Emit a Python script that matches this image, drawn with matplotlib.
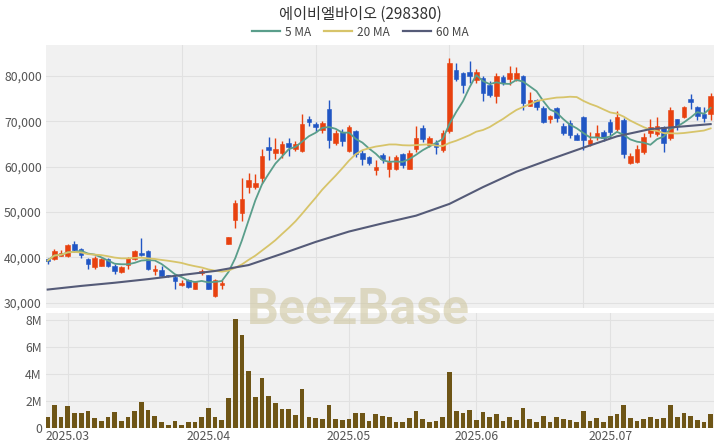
import numpy as np
import pandas as pd
import matplotlib
matplotlib.use("Agg")
import matplotlib.pyplot as plt
from matplotlib.lines import Line2D

plt.rcParams['font.family'] = ['Noto Sans CJK KR', 'DejaVu Sans']

# ---------------- data ----------------
opens = [39700, 39700, 40400, 40300, 43000, 41800, 39700, 37900, 38200, 39700,
         38000, 36800, 38400, 39700, 40900, 41300, 36900, 37200, 36000, 35700,
         33900, 35000, 33100, 36500, 36000, 31400, 33900, 43000, 48300, 49700,
         55500, 55500, 57400, 64400, 63000, 63000, 65300, 63800, 63500, 70600,
         69500, 68000, 72800, 65300, 67700, 63500, 67900, 63000, 62200, 59300,
         62600, 59600, 59400, 62800, 59600, 63800, 68600, 64800, 65300, 63600,
         67900, 81300, 80600, 81000, 79100, 79500, 78000, 75500, 79700, 79300,
         79300, 80000, 73400, 74700, 72900, 70500, 72900, 69000, 69700, 67000,
         70900, 65000, 66500, 67700, 69900, 68300, 70300, 60800, 61100, 63300,
         67500, 67200, 68700, 66300, 70500, 71000, 74900, 73200, 71600, 71600]
highs = [39900, 41800, 41700, 43000, 43700, 42000, 39800, 40200, 39900, 39900,
         38500, 38200, 40100, 41700, 44300, 41600, 38300, 38000, 36200, 36000,
         35000, 35300, 34800, 37500, 36200, 35300, 35000, 44600, 52700, 57400,
         58700, 58300, 63800, 66500, 66300, 65700, 66300, 65700, 71600, 71200,
         69900, 70000, 74800, 68000, 68300, 69100, 68200, 63700, 62300, 61500,
         63100, 62300, 62600, 63000, 63700, 68900, 69100, 66700, 65900, 68200,
         83900, 82900, 81000, 83400, 81500, 80000, 79000, 80600, 80300, 82200,
         82100, 80200, 76500, 75000, 73300, 71400, 73100, 69600, 70200, 67400,
         71200, 67700, 69200, 68000, 70600, 72400, 70700, 63000, 64800, 67400,
         70500, 70900, 69000, 73200, 70600, 73500, 76000, 73400, 73200, 76300]
lows = [38600, 39400, 40200, 40100, 41200, 39800, 37500, 37500, 38100, 37900,
        36300, 36600, 37500, 39400, 40300, 37300, 36100, 35600, 35600, 33000,
        33600, 33200, 33000, 36000, 33000, 31300, 33000, 42900, 46400, 48000,
        54300, 55000, 56300, 61500, 61800, 62000, 62400, 63400, 63300, 68900,
        67700, 67500, 64100, 64800, 64500, 63300, 62200, 60400, 60400, 58200,
        60900, 57800, 59200, 59700, 59400, 63300, 65500, 64400, 62800, 63300,
        67500, 79000, 76200, 78500, 78400, 74600, 75300, 74100, 78000, 78000,
        79000, 72500, 73300, 72600, 69700, 69600, 69800, 67000, 66300, 65800,
        63700, 64600, 66000, 65700, 66300, 67900, 62000, 60700, 60900, 62900,
        66600, 66700, 63300, 66000, 68000, 70800, 72800, 70300, 69900, 70300]
closes = [39300, 41500, 40900, 42700, 41600, 40500, 38500, 39800, 39700, 38000,
          37000, 37900, 39800, 41300, 40500, 37500, 37500, 35900, 35800, 34700,
          34300, 33500, 34500, 37000, 33100, 34900, 34400, 44500, 52000, 52800,
          57100, 56300, 62300, 63700, 64000, 65000, 64300, 64900, 69500, 69900,
          68800, 69700, 65900, 67500, 65700, 68800, 62800, 61800, 60900, 60000,
          61600, 61100, 62200, 60400, 63100, 66300, 66200, 66300, 64400, 67500,
          82800, 79300, 78000, 80000, 81000, 76200, 75900, 80000, 78500, 80700,
          80600, 74100, 74700, 73200, 69900, 71200, 70700, 67500, 67000, 66000,
          65900, 65900, 67500, 66300, 67700, 71000, 62800, 62300, 63800, 66600,
          68700, 69000, 65200, 72500, 69000, 73200, 74300, 71200, 70700, 75500]
volumes_m = [0.8, 1.7, 0.8, 1.6, 1.1, 1.1, 1.2, 0.68, 0.5, 0.75,
             1.15, 0.52, 0.8, 1.2, 1.92, 1.28, 0.88, 0.38, 0.22, 0.52,
             0.22, 0.38, 0.38, 0.78, 1.47, 0.76, 0.56, 2.22, 8.05, 6.9,
             4.2, 2.25, 3.72, 2.32, 1.8, 1.35, 1.4, 0.95, 2.87, 0.76,
             0.7, 0.62, 1.68, 0.66, 0.56, 0.66, 1.07, 1.09, 0.46, 1.01,
             0.84, 0.78, 0.4, 0.4, 0.71, 1.22, 0.63, 0.4, 0.46, 0.78,
             4.13, 1.22, 1.09, 1.34, 0.53, 1.16, 0.76, 1.01, 0.51, 0.78,
             0.58, 1.43, 0.66, 0.42, 0.83, 0.42, 0.78, 0.6, 0.55, 0.42,
             1.2, 0.48, 0.68, 0.42, 0.84, 1.0, 1.66, 0.68, 0.48, 0.62,
             0.78, 0.6, 0.73, 1.68, 0.78, 1.06, 0.86, 0.58, 0.38, 1.0]
# 60-day MA (depends on history before the window)
ma60_idx = [0, 5, 10, 15, 20, 25, 30, 35, 40, 45, 50, 55, 60, 65, 70, 75, 80, 85, 90, 95, 99]
ma60_val = [32900, 33700, 34400, 35200, 36100, 37000, 38300, 40800, 43400, 45700, 47500,
            49200, 51800, 55500, 58900, 61600, 64200, 66700, 68300, 68900, 69400]
month_labels = ["2025.03", "2025.04", "2025.05", "2025.06", "2025.07"]
month_pos = [3, 24, 45, 64, 84]
price_ticks = [30000, 40000, 50000, 60000, 70000, 80000]
vol_ticks_m = [0, 2, 4, 6, 8]

# ---------------- derived ----------------
o = np.array(opens, float); h = np.array(highs, float)
l = np.array(lows, float); c = np.array(closes, float)
v = np.array(volumes_m) * 1e6
x = np.arange(len(c))
ma5 = pd.Series(c).rolling(5, min_periods=1).mean().values
ma20 = pd.Series(c).rolling(20, min_periods=1).mean().values

UP = '#e8410f'
DOWN = '#2156c4'
BG = '#f1f1f1'
GRID = '#e1e1e1'
TXT = '#555555'

W, H = 720, 448
fig = plt.figure(figsize=(W / 100, H / 100), dpi=100)
fig.patch.set_facecolor('white')

ax = fig.add_axes([46 / W, 1 - 308 / H, 668 / W, 263 / H])
axv = fig.add_axes([46 / W, 1 - 427.5 / H, 668 / W, 114.8 / H])

for a in (ax, axv):
    a.set_facecolor(BG)
    for s in a.spines.values():
        s.set_visible(False)
    a.tick_params(length=0, colors=TXT, labelsize=8.8)
    a.set_xlim(-0.25, 99.5)
    a.set_axisbelow(True)

# candles
up = c >= o
colors = np.where(up, UP, DOWN)
ax.vlines(x, l, h, colors=colors, linewidth=1.0, zorder=2)
body_bottom = np.minimum(o, c)
body_h = np.maximum(np.abs(c - o), 120)
ax.bar(x, body_h, bottom=body_bottom, width=0.68, color=colors,
       edgecolor=colors, linewidth=0.4, zorder=3)

# moving averages
ax.plot(x, ma5, color='#5a9e8b', lw=1.3, zorder=4)
ax.plot(x, ma20, color='#d7c46a', lw=1.3, zorder=4)
ax.plot(ma60_idx, ma60_val, color='#555b78', lw=1.5, zorder=4)

ax.set_ylim(28830, 86850)
ax.set_yticks(price_ticks)
ax.set_yticklabels([f"{t:,}" for t in price_ticks])
ax.set_xticks([20, 40, 60, 80])
ax.tick_params(axis='x', labelbottom=False)
ax.grid(True, color=GRID, linewidth=0.8)
ax.tick_params(axis='y', pad=3)

# volume
axv.bar(x, v, width=0.7, color='#6e5516', zorder=3)
axv.set_ylim(0, 8.55e6)
axv.set_yticks([t * 1e6 for t in vol_ticks_m])
axv.set_yticklabels([("0" if t == 0 else f"{t}M") for t in vol_ticks_m])
axv.set_xticks(month_pos)
axv.set_xticklabels(month_labels)
axv.grid(True, color=GRID, linewidth=0.8)
axv.tick_params(axis='x', pad=2)
axv.tick_params(axis='y', pad=3)

# title and legend
fig.text(0.5, 1 - 14 / H, "에이비엘바이오 (298380)", ha='center', va='center',
         fontsize=11, color='#333333')
handles = [Line2D([], [], color='#5a9e8b', lw=1.6),
           Line2D([], [], color='#d7c46a', lw=1.6),
           Line2D([], [], color='#555b78', lw=1.6)]
fig.legend(handles, ["5 MA", "20 MA", "60 MA"], loc='center',
           bbox_to_anchor=(0.5, 1 - 32 / H), ncol=3, frameon=False,
           fontsize=8.5, handlelength=2.4, handletextpad=0.4,
           columnspacing=1.1, labelcolor='#444444')

# watermark
fig.text(358 / W, 1 - 310 / H, "BeezBase", ha='center', va='center',
         fontsize=36, fontweight='bold', family=['Roboto', 'DejaVu Sans'],
         color='#cfc7a0', alpha=0.6, zorder=10)

fig.savefig("out.png", dpi=100, facecolor='white')
